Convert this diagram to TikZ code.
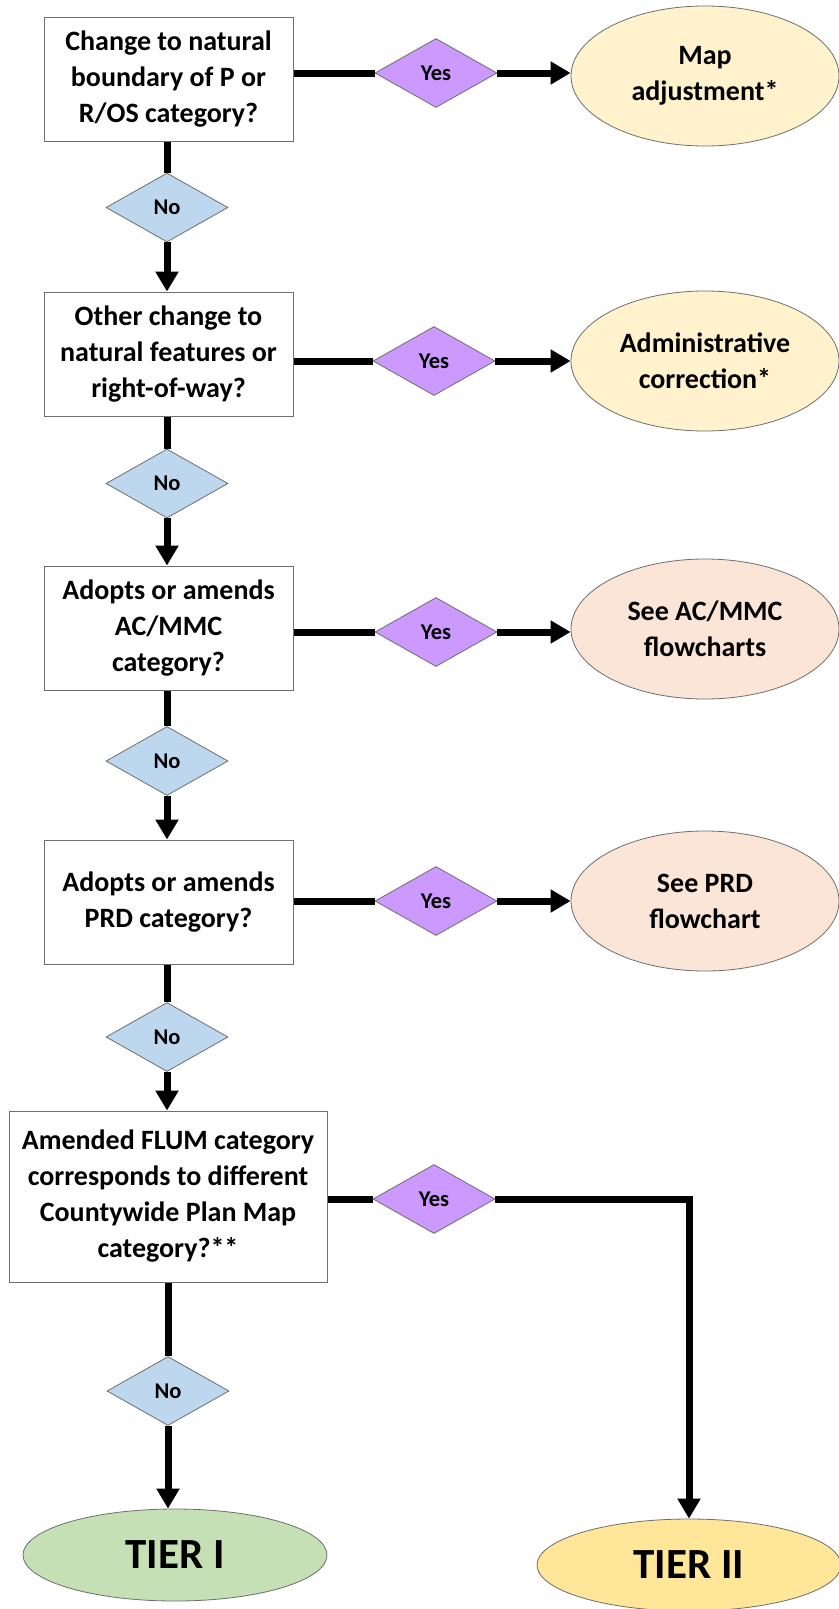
\documentclass[tikz,border=0pt]{standalone}
\usepackage{fontspec}
\setmainfont{Carlito}
\usetikzlibrary{shapes.geometric,arrows.meta,backgrounds}
\definecolor{noblue}{RGB}{189,215,238}
\definecolor{yespurple}{RGB}{204,153,255}
\definecolor{cream}{RGB}{255,242,204}
\definecolor{peach}{RGB}{251,229,214}
\definecolor{tieronegreen}{RGB}{197,224,180}
\definecolor{tiertwoyellow}{RGB}{255,230,153}
\definecolor{edgegray}{RGB}{110,110,110}
\tikzset{
 qbox/.style={draw=edgegray, line width=0.9pt, fill=white, minimum width=249pt, minimum height=124pt, inner sep=0pt, align=center, font=\fontsize{28}{36}\selectfont\bfseries},
 nodia/.style={diamond, draw=edgegray, line width=0.8pt, fill=noblue, minimum width=122pt, minimum height=69pt, inner sep=0pt, font=\fontsize{22.5}{26}\selectfont\bfseries},
 yesdia/.style={nodia, fill=yespurple},
 result/.style={ellipse, draw=edgegray, line width=0.8pt, minimum width=268pt, minimum height=140pt, inner sep=0pt, align=center, font=\fontsize{28}{36}\selectfont\bfseries},
 tier/.style={ellipse, draw=edgegray, line width=0.8pt, minimum width=304pt, minimum height=92pt, inner sep=0pt, font=\fontsize{43}{50}\selectfont\bfseries},
 flow/.style={line width=7pt},
 flowarrow/.style={line width=7pt, -{Triangle[length=20pt,width=22pt]}},
}
\begin{document}
\begin{tikzpicture}[x=1pt,y=-1pt]
\useasboundingbox (0,0) rectangle (838,1609);
% row 1
\node[qbox] (q1) at (168.5,79) {Change to natural\\boundary of P or\\R/OS category?};
\node[yesdia] (y1) at (436,73) {Yes};
\node[result, fill=cream] (r1) at (705,76) {Map\\adjustment*};
\node[nodia] (n1) at (167,207.5) {No};
% row 2
\node[qbox] (q2) at (168.5,354) {Other change to\\natural features or\\right-of-way?};
\node[yesdia] (y2) at (434,361) {Yes};
\node[result, fill=cream] (r2) at (705,361) {Administrative\\correction*};
\node[nodia] (n2) at (167,483.5) {No};
% row 3
\node[qbox] (q3) at (168.5,628) {Adopts or amends\\AC/MMC\\category?};
\node[yesdia] (y3) at (436,632) {Yes};
\node[result, fill=peach] (r3) at (705,629) {See AC/MMC\\flowcharts};
\node[nodia] (n3) at (167,761) {No};
% row 4
\node[qbox] (q4) at (168.5,902) {Adopts or amends\\PRD category?};
\node[yesdia] (y4) at (436,901) {Yes};
\node[result, fill=peach] (r4) at (705,901) {See PRD\\flowchart};
\node[nodia] (n4) at (167,1037) {No};
% row 5
\node[qbox, minimum width=318pt, minimum height=171pt] (q5) at (168,1196.5) {Amended FLUM category\\corresponds to different\\Countywide Plan Map\\category?**};
\node[yesdia] (y5) at (434,1199) {Yes};
\node[nodia] (n5) at (168,1391) {No};
\node[tier, fill=tieronegreen] (t1) at (175,1555) {TIER I};
\node[tier, fill=tiertwoyellow] (t2) at (689,1565) {TIER II};
\coordinate (corner) at (689,1199);
\begin{scope}[on background layer]
\fill[white] (0,0) rectangle (838,1609);
% yes branches
\draw[flow] (q1.east |- y1) -- (y1.west);
\draw[flowarrow] (y1.east) -- (y1.east -| r1.west);
\draw[flow] (q2.east |- y2) -- (y2.west);
\draw[flowarrow] (y2.east) -- (y2.east -| r2.west);
\draw[flow] (q3.east |- y3) -- (y3.west);
\draw[flowarrow] (y3.east) -- (y3.east -| r3.west);
\draw[flow] (q4.east |- y4) -- (y4.west);
\draw[flowarrow] (y4.east) -- (y4.east -| r4.west);
\draw[flow] (q5.east |- y5) -- (y5.west);
\draw[flowarrow] (y5.east) -- (corner) -- (corner |- t2.north);
% no branches
\draw[flow] (n1.north |- q1.south) -- (n1.north);
\draw[flowarrow] (n1.south) -- (n1.south |- q2.north);
\draw[flow] (n2.north |- q2.south) -- (n2.north);
\draw[flowarrow] (n2.south) -- (n2.south |- q3.north);
\draw[flow] (n3.north |- q3.south) -- (n3.north);
\draw[flowarrow] (n3.south) -- (n3.south |- q4.north);
\draw[flow] (n4.north |- q4.south) -- (n4.north);
\draw[flowarrow] (n4.south) -- (n4.south |- q5.north);
\draw[flow] (n5.north |- q5.south) -- (n5.north);
\draw[flowarrow] (n5.south) -- (n5.south |- t1.north);
\end{scope}
\end{tikzpicture}
\end{document}
